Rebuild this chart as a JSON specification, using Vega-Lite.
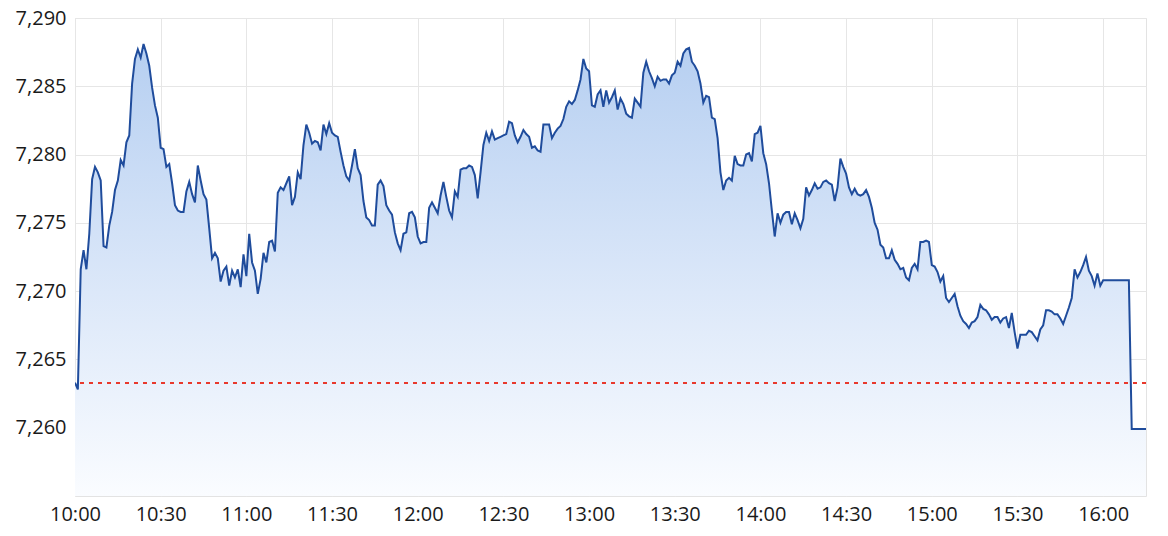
{
  "$schema": "https://vega.github.io/schema/vega-lite/v6.json",
  "width": 1071,
  "height": 478,
  "autosize": {"type": "none"},
  "padding": {"left": 75, "top": 18, "right": 22, "bottom": 40},
  "background": "#ffffff",
  "config": {
    "view": {"stroke": "#e3e3e3", "strokeWidth": 1},
    "font": "Open Sans",
    "axis": {
      "labelFont": "Open Sans",
      "labelFontSize": 20,
      "labelColor": "#1a1a1a",
      "gridColor": "#e6e6e6",
      "gridWidth": 1,
      "domain": false,
      "ticks": false
    }
  },
  "data": {
    "values": [
      {"t":"2024-01-02T10:00","v":7263.3},{"t":"2024-01-02T10:01","v":7262.8},{"t":"2024-01-02T10:02","v":7271.6},{"t":"2024-01-02T10:03","v":7273.0},{"t":"2024-01-02T10:04","v":7271.6},{"t":"2024-01-02T10:05","v":7274.2},{"t":"2024-01-02T10:06","v":7278.2},{"t":"2024-01-02T10:07","v":7279.1},{"t":"2024-01-02T10:08","v":7278.7},{"t":"2024-01-02T10:09","v":7278.1},
      {"t":"2024-01-02T10:10","v":7273.3},{"t":"2024-01-02T10:11","v":7273.2},{"t":"2024-01-02T10:12","v":7274.8},{"t":"2024-01-02T10:13","v":7275.8},{"t":"2024-01-02T10:14","v":7277.4},{"t":"2024-01-02T10:15","v":7278.1},{"t":"2024-01-02T10:16","v":7279.6},{"t":"2024-01-02T10:17","v":7279.2},{"t":"2024-01-02T10:18","v":7280.9},{"t":"2024-01-02T10:19","v":7281.4},
      {"t":"2024-01-02T10:20","v":7285.2},{"t":"2024-01-02T10:21","v":7287.0},{"t":"2024-01-02T10:22","v":7287.7},{"t":"2024-01-02T10:23","v":7287.1},{"t":"2024-01-02T10:24","v":7288.1},{"t":"2024-01-02T10:25","v":7287.4},{"t":"2024-01-02T10:26","v":7286.5},{"t":"2024-01-02T10:27","v":7284.9},{"t":"2024-01-02T10:28","v":7283.6},{"t":"2024-01-02T10:29","v":7282.7},
      {"t":"2024-01-02T10:30","v":7280.5},{"t":"2024-01-02T10:31","v":7280.4},{"t":"2024-01-02T10:32","v":7279.1},{"t":"2024-01-02T10:33","v":7279.3},{"t":"2024-01-02T10:34","v":7277.9},{"t":"2024-01-02T10:35","v":7276.3},{"t":"2024-01-02T10:36","v":7275.9},{"t":"2024-01-02T10:37","v":7275.8},{"t":"2024-01-02T10:38","v":7275.8},{"t":"2024-01-02T10:39","v":7277.3},
      {"t":"2024-01-02T10:40","v":7278.0},{"t":"2024-01-02T10:41","v":7277.1},{"t":"2024-01-02T10:42","v":7276.5},{"t":"2024-01-02T10:43","v":7279.2},{"t":"2024-01-02T10:44","v":7278.1},{"t":"2024-01-02T10:45","v":7277.1},{"t":"2024-01-02T10:46","v":7276.7},{"t":"2024-01-02T10:47","v":7274.6},{"t":"2024-01-02T10:48","v":7272.4},{"t":"2024-01-02T10:49","v":7272.8},
      {"t":"2024-01-02T10:50","v":7272.4},{"t":"2024-01-02T10:51","v":7270.7},{"t":"2024-01-02T10:52","v":7271.5},{"t":"2024-01-02T10:53","v":7271.8},{"t":"2024-01-02T10:54","v":7270.4},{"t":"2024-01-02T10:55","v":7271.5},{"t":"2024-01-02T10:56","v":7271.0},{"t":"2024-01-02T10:57","v":7271.6},{"t":"2024-01-02T10:58","v":7270.3},{"t":"2024-01-02T10:59","v":7272.7},
      {"t":"2024-01-02T11:00","v":7271.1},{"t":"2024-01-02T11:01","v":7274.2},{"t":"2024-01-02T11:02","v":7272.1},{"t":"2024-01-02T11:03","v":7271.5},{"t":"2024-01-02T11:04","v":7269.8},{"t":"2024-01-02T11:05","v":7270.9},{"t":"2024-01-02T11:06","v":7272.8},{"t":"2024-01-02T11:07","v":7272.1},{"t":"2024-01-02T11:08","v":7273.6},{"t":"2024-01-02T11:09","v":7273.7},
      {"t":"2024-01-02T11:10","v":7272.9},{"t":"2024-01-02T11:11","v":7277.2},{"t":"2024-01-02T11:12","v":7277.6},{"t":"2024-01-02T11:13","v":7277.4},{"t":"2024-01-02T11:14","v":7277.9},{"t":"2024-01-02T11:15","v":7278.4},{"t":"2024-01-02T11:16","v":7276.3},{"t":"2024-01-02T11:17","v":7276.9},{"t":"2024-01-02T11:18","v":7278.7},{"t":"2024-01-02T11:19","v":7278.2},
      {"t":"2024-01-02T11:20","v":7280.7},{"t":"2024-01-02T11:21","v":7282.2},{"t":"2024-01-02T11:22","v":7281.6},{"t":"2024-01-02T11:23","v":7280.8},{"t":"2024-01-02T11:24","v":7281.0},{"t":"2024-01-02T11:25","v":7280.9},{"t":"2024-01-02T11:26","v":7280.3},{"t":"2024-01-02T11:27","v":7282.2},{"t":"2024-01-02T11:28","v":7281.5},{"t":"2024-01-02T11:29","v":7282.3},
      {"t":"2024-01-02T11:30","v":7281.6},{"t":"2024-01-02T11:31","v":7281.4},{"t":"2024-01-02T11:32","v":7281.3},{"t":"2024-01-02T11:33","v":7280.2},{"t":"2024-01-02T11:34","v":7279.2},{"t":"2024-01-02T11:35","v":7278.4},{"t":"2024-01-02T11:36","v":7278.1},{"t":"2024-01-02T11:37","v":7279.2},{"t":"2024-01-02T11:38","v":7280.4},{"t":"2024-01-02T11:39","v":7279.0},
      {"t":"2024-01-02T11:40","v":7278.5},{"t":"2024-01-02T11:41","v":7276.6},{"t":"2024-01-02T11:42","v":7275.4},{"t":"2024-01-02T11:43","v":7275.2},{"t":"2024-01-02T11:44","v":7274.8},{"t":"2024-01-02T11:45","v":7274.8},{"t":"2024-01-02T11:46","v":7277.8},{"t":"2024-01-02T11:47","v":7278.1},{"t":"2024-01-02T11:48","v":7277.7},{"t":"2024-01-02T11:49","v":7276.3},
      {"t":"2024-01-02T11:50","v":7275.9},{"t":"2024-01-02T11:51","v":7275.6},{"t":"2024-01-02T11:52","v":7274.3},{"t":"2024-01-02T11:53","v":7273.5},{"t":"2024-01-02T11:54","v":7273.0},{"t":"2024-01-02T11:55","v":7274.2},{"t":"2024-01-02T11:56","v":7274.3},{"t":"2024-01-02T11:57","v":7275.7},{"t":"2024-01-02T11:58","v":7275.8},{"t":"2024-01-02T11:59","v":7275.4},
      {"t":"2024-01-02T12:00","v":7274.0},{"t":"2024-01-02T12:01","v":7273.5},{"t":"2024-01-02T12:02","v":7273.6},{"t":"2024-01-02T12:03","v":7273.6},{"t":"2024-01-02T12:04","v":7276.1},{"t":"2024-01-02T12:05","v":7276.5},{"t":"2024-01-02T12:06","v":7276.1},{"t":"2024-01-02T12:07","v":7275.7},{"t":"2024-01-02T12:08","v":7277.0},{"t":"2024-01-02T12:09","v":7278.0},
      {"t":"2024-01-02T12:10","v":7276.9},{"t":"2024-01-02T12:11","v":7275.9},{"t":"2024-01-02T12:12","v":7275.4},{"t":"2024-01-02T12:13","v":7277.3},{"t":"2024-01-02T12:14","v":7276.9},{"t":"2024-01-02T12:15","v":7278.9},{"t":"2024-01-02T12:16","v":7279.0},{"t":"2024-01-02T12:17","v":7279.0},{"t":"2024-01-02T12:18","v":7279.2},{"t":"2024-01-02T12:19","v":7279.1},
      {"t":"2024-01-02T12:20","v":7278.5},{"t":"2024-01-02T12:21","v":7276.8},{"t":"2024-01-02T12:22","v":7278.7},{"t":"2024-01-02T12:23","v":7280.7},{"t":"2024-01-02T12:24","v":7281.6},{"t":"2024-01-02T12:25","v":7281.0},{"t":"2024-01-02T12:26","v":7281.7},{"t":"2024-01-02T12:27","v":7281.1},{"t":"2024-01-02T12:28","v":7281.2},{"t":"2024-01-02T12:29","v":7281.3},
      {"t":"2024-01-02T12:30","v":7281.4},{"t":"2024-01-02T12:31","v":7281.5},{"t":"2024-01-02T12:32","v":7282.4},{"t":"2024-01-02T12:33","v":7282.3},{"t":"2024-01-02T12:34","v":7281.4},{"t":"2024-01-02T12:35","v":7280.9},{"t":"2024-01-02T12:36","v":7281.3},{"t":"2024-01-02T12:37","v":7281.8},{"t":"2024-01-02T12:38","v":7281.5},{"t":"2024-01-02T12:39","v":7281.3},
      {"t":"2024-01-02T12:40","v":7280.5},{"t":"2024-01-02T12:41","v":7280.6},{"t":"2024-01-02T12:42","v":7280.3},{"t":"2024-01-02T12:43","v":7280.2},{"t":"2024-01-02T12:44","v":7282.2},{"t":"2024-01-02T12:45","v":7282.2},{"t":"2024-01-02T12:46","v":7282.2},{"t":"2024-01-02T12:47","v":7281.2},{"t":"2024-01-02T12:48","v":7281.6},{"t":"2024-01-02T12:49","v":7281.9},
      {"t":"2024-01-02T12:50","v":7282.1},{"t":"2024-01-02T12:51","v":7282.6},{"t":"2024-01-02T12:52","v":7283.5},{"t":"2024-01-02T12:53","v":7283.9},{"t":"2024-01-02T12:54","v":7283.7},{"t":"2024-01-02T12:55","v":7284.0},{"t":"2024-01-02T12:56","v":7284.7},{"t":"2024-01-02T12:57","v":7285.5},{"t":"2024-01-02T12:58","v":7287.0},{"t":"2024-01-02T12:59","v":7286.3},
      {"t":"2024-01-02T13:00","v":7286.1},{"t":"2024-01-02T13:01","v":7283.6},{"t":"2024-01-02T13:02","v":7283.5},{"t":"2024-01-02T13:03","v":7284.4},{"t":"2024-01-02T13:04","v":7284.7},{"t":"2024-01-02T13:05","v":7283.5},{"t":"2024-01-02T13:06","v":7284.7},{"t":"2024-01-02T13:07","v":7283.8},{"t":"2024-01-02T13:08","v":7284.2},{"t":"2024-01-02T13:09","v":7284.7},
      {"t":"2024-01-02T13:10","v":7283.3},{"t":"2024-01-02T13:11","v":7284.1},{"t":"2024-01-02T13:12","v":7283.7},{"t":"2024-01-02T13:13","v":7283.0},{"t":"2024-01-02T13:14","v":7282.8},{"t":"2024-01-02T13:15","v":7282.7},{"t":"2024-01-02T13:16","v":7284.1},{"t":"2024-01-02T13:17","v":7283.8},{"t":"2024-01-02T13:18","v":7283.5},{"t":"2024-01-02T13:19","v":7286.0},
      {"t":"2024-01-02T13:20","v":7286.8},{"t":"2024-01-02T13:21","v":7286.1},{"t":"2024-01-02T13:22","v":7285.6},{"t":"2024-01-02T13:23","v":7285.0},{"t":"2024-01-02T13:24","v":7285.7},{"t":"2024-01-02T13:25","v":7285.4},{"t":"2024-01-02T13:26","v":7285.5},{"t":"2024-01-02T13:27","v":7285.5},{"t":"2024-01-02T13:28","v":7285.2},{"t":"2024-01-02T13:29","v":7285.8},
      {"t":"2024-01-02T13:30","v":7286.0},{"t":"2024-01-02T13:31","v":7286.8},{"t":"2024-01-02T13:32","v":7286.5},{"t":"2024-01-02T13:33","v":7287.4},{"t":"2024-01-02T13:34","v":7287.7},{"t":"2024-01-02T13:35","v":7287.8},{"t":"2024-01-02T13:36","v":7286.8},{"t":"2024-01-02T13:37","v":7286.5},{"t":"2024-01-02T13:38","v":7286.1},{"t":"2024-01-02T13:39","v":7285.2},
      {"t":"2024-01-02T13:40","v":7283.8},{"t":"2024-01-02T13:41","v":7284.3},{"t":"2024-01-02T13:42","v":7284.2},{"t":"2024-01-02T13:43","v":7282.7},{"t":"2024-01-02T13:44","v":7282.6},{"t":"2024-01-02T13:45","v":7281.2},{"t":"2024-01-02T13:46","v":7278.7},{"t":"2024-01-02T13:47","v":7277.4},{"t":"2024-01-02T13:48","v":7278.1},{"t":"2024-01-02T13:49","v":7278.3},
      {"t":"2024-01-02T13:50","v":7278.1},{"t":"2024-01-02T13:51","v":7279.9},{"t":"2024-01-02T13:52","v":7279.3},{"t":"2024-01-02T13:53","v":7279.2},{"t":"2024-01-02T13:54","v":7279.2},{"t":"2024-01-02T13:55","v":7280.0},{"t":"2024-01-02T13:56","v":7280.1},{"t":"2024-01-02T13:57","v":7279.5},{"t":"2024-01-02T13:58","v":7281.5},{"t":"2024-01-02T13:59","v":7281.6},
      {"t":"2024-01-02T14:00","v":7282.1},{"t":"2024-01-02T14:01","v":7280.1},{"t":"2024-01-02T14:02","v":7279.3},{"t":"2024-01-02T14:03","v":7277.9},{"t":"2024-01-02T14:04","v":7275.9},{"t":"2024-01-02T14:05","v":7274.0},{"t":"2024-01-02T14:06","v":7275.7},{"t":"2024-01-02T14:07","v":7275.0},{"t":"2024-01-02T14:08","v":7275.6},{"t":"2024-01-02T14:09","v":7275.8},
      {"t":"2024-01-02T14:10","v":7275.8},{"t":"2024-01-02T14:11","v":7274.9},{"t":"2024-01-02T14:12","v":7275.7},{"t":"2024-01-02T14:13","v":7275.2},{"t":"2024-01-02T14:14","v":7274.6},{"t":"2024-01-02T14:15","v":7275.3},{"t":"2024-01-02T14:16","v":7277.6},{"t":"2024-01-02T14:17","v":7277.0},{"t":"2024-01-02T14:18","v":7277.4},{"t":"2024-01-02T14:19","v":7277.9},
      {"t":"2024-01-02T14:20","v":7277.5},{"t":"2024-01-02T14:21","v":7277.6},{"t":"2024-01-02T14:22","v":7278.0},{"t":"2024-01-02T14:23","v":7278.1},{"t":"2024-01-02T14:24","v":7277.9},{"t":"2024-01-02T14:25","v":7277.8},{"t":"2024-01-02T14:26","v":7276.6},{"t":"2024-01-02T14:27","v":7277.6},{"t":"2024-01-02T14:28","v":7279.7},{"t":"2024-01-02T14:29","v":7279.1},
      {"t":"2024-01-02T14:30","v":7278.6},{"t":"2024-01-02T14:31","v":7277.6},{"t":"2024-01-02T14:32","v":7277.1},{"t":"2024-01-02T14:33","v":7277.5},{"t":"2024-01-02T14:34","v":7277.1},{"t":"2024-01-02T14:35","v":7277.0},{"t":"2024-01-02T14:36","v":7277.1},{"t":"2024-01-02T14:37","v":7277.4},{"t":"2024-01-02T14:38","v":7276.9},{"t":"2024-01-02T14:39","v":7276.1},
      {"t":"2024-01-02T14:40","v":7275.0},{"t":"2024-01-02T14:41","v":7274.5},{"t":"2024-01-02T14:42","v":7273.4},{"t":"2024-01-02T14:43","v":7273.2},{"t":"2024-01-02T14:44","v":7272.4},{"t":"2024-01-02T14:45","v":7272.4},{"t":"2024-01-02T14:46","v":7273.0},{"t":"2024-01-02T14:47","v":7272.3},{"t":"2024-01-02T14:48","v":7272.0},{"t":"2024-01-02T14:49","v":7271.6},
      {"t":"2024-01-02T14:50","v":7271.7},{"t":"2024-01-02T14:51","v":7271.0},{"t":"2024-01-02T14:52","v":7270.8},{"t":"2024-01-02T14:53","v":7271.7},{"t":"2024-01-02T14:54","v":7272.0},{"t":"2024-01-02T14:55","v":7271.6},{"t":"2024-01-02T14:56","v":7273.6},{"t":"2024-01-02T14:57","v":7273.6},{"t":"2024-01-02T14:58","v":7273.7},{"t":"2024-01-02T14:59","v":7273.6},
      {"t":"2024-01-02T15:00","v":7271.9},{"t":"2024-01-02T15:01","v":7271.8},{"t":"2024-01-02T15:02","v":7271.4},{"t":"2024-01-02T15:03","v":7270.7},{"t":"2024-01-02T15:04","v":7271.1},{"t":"2024-01-02T15:05","v":7269.5},{"t":"2024-01-02T15:06","v":7269.2},{"t":"2024-01-02T15:07","v":7269.5},{"t":"2024-01-02T15:08","v":7269.8},{"t":"2024-01-02T15:09","v":7268.9},
      {"t":"2024-01-02T15:10","v":7268.2},{"t":"2024-01-02T15:11","v":7267.8},{"t":"2024-01-02T15:12","v":7267.6},{"t":"2024-01-02T15:13","v":7267.3},{"t":"2024-01-02T15:14","v":7267.7},{"t":"2024-01-02T15:15","v":7267.8},{"t":"2024-01-02T15:16","v":7268.1},{"t":"2024-01-02T15:17","v":7269.0},{"t":"2024-01-02T15:18","v":7268.7},{"t":"2024-01-02T15:19","v":7268.6},
      {"t":"2024-01-02T15:20","v":7268.3},{"t":"2024-01-02T15:21","v":7267.9},{"t":"2024-01-02T15:22","v":7268.1},{"t":"2024-01-02T15:23","v":7268.1},{"t":"2024-01-02T15:24","v":7267.7},{"t":"2024-01-02T15:25","v":7268.0},{"t":"2024-01-02T15:26","v":7268.1},{"t":"2024-01-02T15:27","v":7267.3},{"t":"2024-01-02T15:28","v":7268.4},{"t":"2024-01-02T15:29","v":7267.0},
      {"t":"2024-01-02T15:30","v":7265.8},{"t":"2024-01-02T15:31","v":7266.8},{"t":"2024-01-02T15:32","v":7266.8},{"t":"2024-01-02T15:33","v":7266.8},{"t":"2024-01-02T15:34","v":7267.1},{"t":"2024-01-02T15:35","v":7267.0},{"t":"2024-01-02T15:36","v":7266.7},{"t":"2024-01-02T15:37","v":7266.4},{"t":"2024-01-02T15:38","v":7267.2},{"t":"2024-01-02T15:39","v":7267.5},
      {"t":"2024-01-02T15:40","v":7268.6},{"t":"2024-01-02T15:41","v":7268.6},{"t":"2024-01-02T15:42","v":7268.5},{"t":"2024-01-02T15:43","v":7268.3},{"t":"2024-01-02T15:44","v":7268.3},{"t":"2024-01-02T15:45","v":7268.0},{"t":"2024-01-02T15:46","v":7267.6},{"t":"2024-01-02T15:47","v":7268.2},{"t":"2024-01-02T15:48","v":7268.8},{"t":"2024-01-02T15:49","v":7269.5},
      {"t":"2024-01-02T15:50","v":7271.6},{"t":"2024-01-02T15:51","v":7271.0},{"t":"2024-01-02T15:52","v":7271.4},{"t":"2024-01-02T15:53","v":7271.9},{"t":"2024-01-02T15:54","v":7272.5},{"t":"2024-01-02T15:55","v":7271.5},{"t":"2024-01-02T15:56","v":7271.1},{"t":"2024-01-02T15:57","v":7270.4},{"t":"2024-01-02T15:58","v":7271.3},{"t":"2024-01-02T15:59","v":7270.4},
      {"t":"2024-01-02T16:00","v":7270.8},{"t":"2024-01-02T16:09","v":7270.8},{"t":"2024-01-02T16:10","v":7259.9},{"t":"2024-01-02T16:15","v":7259.9}
    ]
  },
  "layer": [
    {
      "mark": {
        "type": "area",
        "clip": true,
        "fill": {
          "gradient": "linear",
          "x1": 0, "y1": 1, "x2": 0, "y2": 0,
          "stops": [
            {"offset": 0, "color": "#fafcff"},
            {"offset": 0.45, "color": "#dce8f9"},
            {"offset": 1, "color": "#b6cff1"}
          ]
        }
      },
      "encoding": {
        "x": {
          "field": "t",
          "type": "temporal",
          "title": null,
          "scale": {
            "domain": [
              {"year": 2024, "month": 1, "date": 2, "hours": 10, "minutes": 0},
              {"year": 2024, "month": 1, "date": 2, "hours": 16, "minutes": 15}
            ]
          },
          "axis": {
            "format": "%H:%M",
            "values": [
              {"year": 2024, "month": 1, "date": 2, "hours": 10, "minutes": 0},
              {"year": 2024, "month": 1, "date": 2, "hours": 10, "minutes": 30},
              {"year": 2024, "month": 1, "date": 2, "hours": 11, "minutes": 0},
              {"year": 2024, "month": 1, "date": 2, "hours": 11, "minutes": 30},
              {"year": 2024, "month": 1, "date": 2, "hours": 12, "minutes": 0},
              {"year": 2024, "month": 1, "date": 2, "hours": 12, "minutes": 30},
              {"year": 2024, "month": 1, "date": 2, "hours": 13, "minutes": 0},
              {"year": 2024, "month": 1, "date": 2, "hours": 13, "minutes": 30},
              {"year": 2024, "month": 1, "date": 2, "hours": 14, "minutes": 0},
              {"year": 2024, "month": 1, "date": 2, "hours": 14, "minutes": 30},
              {"year": 2024, "month": 1, "date": 2, "hours": 15, "minutes": 0},
              {"year": 2024, "month": 1, "date": 2, "hours": 15, "minutes": 30},
              {"year": 2024, "month": 1, "date": 2, "hours": 16, "minutes": 0}
            ],
            "labelPadding": 8,
            "labelFlush": false,
            "labelOverlap": false
          }
        },
        "y": {
          "field": "v",
          "type": "quantitative",
          "title": null,
          "scale": {"domain": [7255, 7290], "zero": false, "nice": false},
          "axis": {
            "values": [7260, 7265, 7270, 7275, 7280, 7285, 7290],
            "format": ",",
            "labelPadding": 9
          }
        },
        "y2": {"datum": 7255}
      }
    },
    {
      "mark": {"type": "line", "clip": true, "color": "#1f4c9c", "strokeWidth": 2},
      "encoding": {
        "x": {"field": "t", "type": "temporal"},
        "y": {"field": "v", "type": "quantitative"}
      }
    },
    {
      "mark": {"type": "rule", "color": "#e8392c", "strokeWidth": 1.5, "strokeDash": [3.5, 5.5]},
      "encoding": {
        "y": {"datum": 7263.3}
      }
    }
  ]
}
